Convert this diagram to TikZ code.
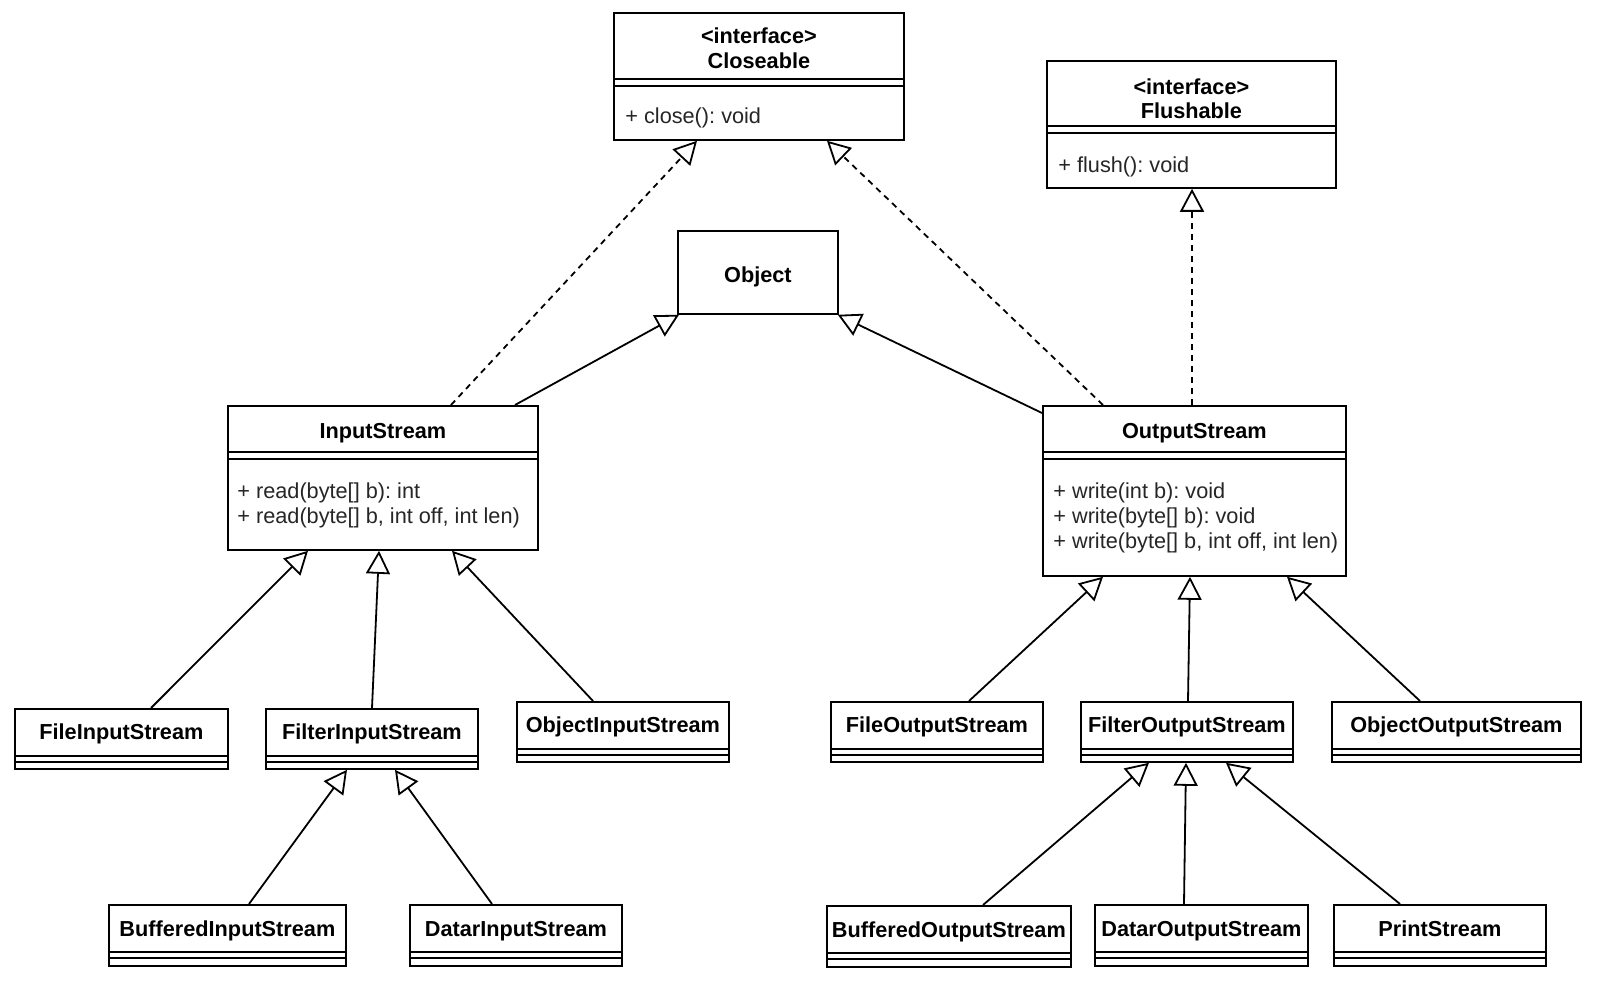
\documentclass[tikz,border=0pt]{standalone}
\usepackage{fontspec}
\setmainfont{Liberation Sans}
\usetikzlibrary{arrows.meta,calc}
\frenchspacing
\newcommand\mkbox[5]{%
  \node[cbox, minimum width={(#4-#2)*0.5pt}, minimum height={(#5-#3)*0.5pt}, anchor=north west] (#1) at (#2,#3) {};}
\newcommand\seps[3]{%
  \draw[sepline] ($(#1.north west)+(0,#2)$) -- ($(#1.north east)+(0,#2)$);
  \draw[sepline] ($(#1.north west)+(0,#3)$) -- ($(#1.north east)+(0,#3)$);}
\newcommand\smallclass[6]{% name,l,t,r,b,text
  \mkbox{#1}{#2}{#3}{#4}{#5}
  \seps{#1}{48}{54}
  \node[hdr] (#1-t) at ($(#1.north)+(0,32)$) {#6};}
\begin{document}
\frenchspacing
\begin{tikzpicture}[x=0.5pt,y=-0.5pt,
  cbox/.style={draw, line width=0.9pt, fill=white, inner sep=0pt, rectangle},
  sepline/.style={line width=0.9pt},
  hdr/.style={inner sep=0pt, anchor=base, font=\fontsize{10.85}{12}\selectfont\bfseries},
  mth/.style={inner sep=0pt, anchor=base west, font=\fontsize{10.85}{12}\selectfont, text=black!85},
  gen/.style={line width=0.9pt, -{Triangle[open, length=11.5pt, width=12pt]}},
  real/.style={gen, dash pattern=on 3pt off 2.5pt}]
\fill[white] (0,0) rectangle (1602,983);
\useasboundingbox (0,0) rectangle (1602,983);

% Closeable
\mkbox{cl}{613}{12}{903}{139}
\seps{cl}{67}{74}
\node[hdr] (cl-s) at ($(cl.north)+(0,32)$) {<interface>};
\node[hdr] (cl-t) at ($(cl.north)+(0,57)$) {Closeable};
\node[mth] (cl-m) at ($(cl.north west)+(12,112)$) {+ close(): void};

% Flushable
\mkbox{fl}{1046}{60}{1335}{187}
\seps{fl}{66}{73}
\node[hdr] (fl-s) at ($(fl.north)+(0,35)$) {<interface>};
\node[hdr] (fl-t) at ($(fl.north)+(0,59)$) {Flushable};
\node[mth] (fl-m) at ($(fl.north west)+(12,113)$) {+ flush(): void};

% Object
\mkbox{ob}{677}{230}{837}{313}
\node[hdr] (ob-t) at ($(ob.north)+(0,53)$) {Object};

% InputStream
\mkbox{is}{227}{405}{537}{549}
\seps{is}{47}{54}
\node[hdr] (is-t) at ($(is.north)+(0,34)$) {InputStream};
\node[mth] (is-m1) at ($(is.north west)+(10,94)$) {+ read(byte[] b): int};
\node[mth] (is-m2) at ($(is.north west)+(10,119)$) {+ read(byte[] b, int off, int len)};

% OutputStream
\mkbox{os}{1042}{405}{1345}{575}
\seps{os}{47}{54}
\node[hdr] (os-t) at ($(os.north)+(0,34)$) {OutputStream};
\node[mth] (os-m1) at ($(os.north west)+(11,94)$) {+ write(int b): void};
\node[mth] (os-m2) at ($(os.north west)+(11,119)$) {+ write(byte[] b): void};
\node[mth] (os-m3) at ($(os.north west)+(11,144)$) {+ write(byte[] b, int off, int len)};

% small classes
\smallclass{fis}{14}{708}{227}{768}{FileInputStream}
\smallclass{fils}{265}{708}{477}{768}{FilterInputStream}
\smallclass{ois}{516}{701}{728}{761}{ObjectInputStream}
\smallclass{fos}{830}{701}{1042}{761}{FileOutputStream}
\smallclass{filo}{1080}{701}{1292}{761}{FilterOutputStream}
\smallclass{oos}{1331}{701}{1580}{761}{ObjectOutputStream}
\smallclass{bis}{108}{904}{345}{965}{BufferedInputStream}
\smallclass{dis}{409}{904}{621}{965}{DatarInputStream}
\smallclass{bos}{826}{905}{1070}{966}{BufferedOutputStream}
\smallclass{dos}{1094}{904}{1307}{965}{DatarOutputStream}
\smallclass{ps}{1333}{904}{1545}{965}{PrintStream}

% connectors
\draw[real] ($(is.north west)+(224,0)$) -- ($(cl.south west)+(84,0)$);
\draw[gen]  ($(is.north west)+(288,0)$) -- ($(ob.south west)+(2,0)$);
\draw[gen]  ($(os.north west)+(0,8)$) -- ($(ob.south east)+(-1,0)$);
\draw[real] ($(os.north west)+(61,0)$) -- ($(cl.south west)+(214,0)$);
\draw[real] ($(os.north west)+(150,0)$) -- ($(fl.south west)+(146,0)$);

\draw[gen] ($(fis.north west)+(137,0)$) -- ($(is.south west)+(81,0)$);
\draw[gen] ($(fils.north west)+(107,0)$) -- ($(is.south west)+(152,0)$);
\draw[gen] ($(ois.north west)+(77,0)$) -- ($(is.south west)+(225,0)$);

\draw[gen] ($(fos.north west)+(139,0)$) -- ($(os.south west)+(61,0)$);
\draw[gen] ($(filo.north west)+(108,0)$) -- ($(os.south west)+(148,0)$);
\draw[gen] ($(oos.north west)+(89,0)$) -- ($(os.south west)+(245,0)$);

\draw[gen] ($(bis.north west)+(141,0)$) -- ($(fils.south west)+(82,0)$);
\draw[gen] ($(dis.north west)+(83,0)$) -- ($(fils.south west)+(130,0)$);

\draw[gen] ($(bos.north west)+(157,0)$) -- ($(filo.south west)+(69,0)$);
\draw[gen] ($(dos.north west)+(90,0)$) -- ($(filo.south west)+(106,0)$);
\draw[gen] ($(ps.north west)+(67,0)$) -- ($(filo.south west)+(146,0)$);
\end{tikzpicture}
\end{document}
